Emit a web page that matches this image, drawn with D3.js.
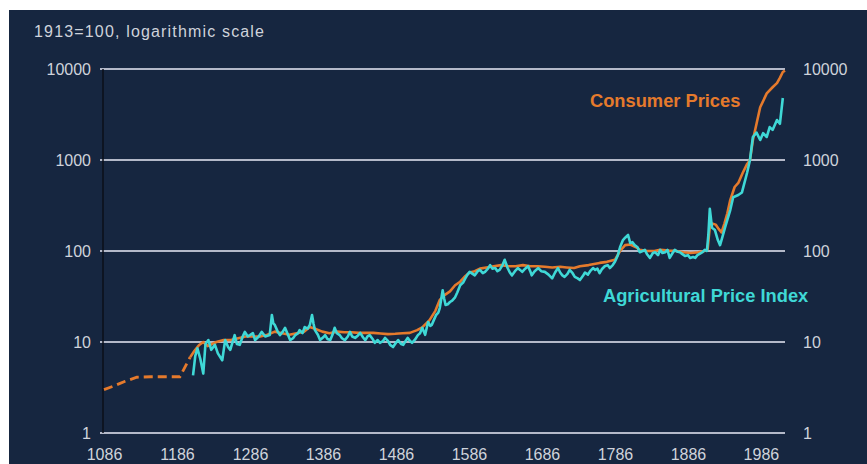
<!DOCTYPE html>
<html><head><meta charset="utf-8">
<script src="https://cdn.jsdelivr.net/npm/d3@7"></script>
<style>
html,body{margin:0;padding:0;background:#ffffff;}
svg{display:block;font-family:"Liberation Sans",Arial,sans-serif;}
</style></head>
<body>
<svg id="chart" width="867" height="464"></svg>
<script>
// ---- data ----
const yTickValues = [1, 10, 100, 1000, 10000];
const xTickYears = [1086, 1186, 1286, 1386, 1486, 1586, 1686, 1786, 1886, 1986];

// Consumer prices, early estimated (dashed) segment
const cpiEarlyYears  = [1086, 1100, 1115, 1131, 1150, 1170, 1190, 1204];
const cpiEarlyValues = [3.0, 3.3, 3.7, 4.1, 4.15, 4.15, 4.15, 6.8];

// Consumer prices (solid)
const cpiYears = [1204,1210,1216,1222,1228,1234,1240,1250,1260,1270,1280,1290,1300,1310,1320,1330,1340,1350,1360,1368,1375,1385,1395,1405,1415,1425,1435,1445,1455,1465,1475,1485,1495,1505,1515,1522,1532,1540,1546,1553,1560,1567,1574,1580,1587,1594,1601,1610,1620,1630,1640,1650,1660,1670,1680,1690,1700,1711,1720,1730,1738,1750,1765,1775,1786,1793,1800,1807,1815,1820,1830,1840,1848,1860,1870,1880,1890,1900,1909,1913,1916,1920,1924,1928,1932,1936,1940,1944,1950,1955,1961,1967,1971,1975,1980,1985,1994,2002,2008,2012,2016,2019];
const cpiValues = [6.8,8.0,9.2,10.0,9.0,9.5,10,10.5,10.5,11,11.5,11.5,11.5,12,13,12.5,12,12.5,13,14.6,14,13,12.5,13,12.8,12.8,12.6,12.6,12.6,12.4,12.2,12.3,12.5,12.6,13.5,14.5,17.4,22,29,33,36,42,46,52,58,60,64,66,68,70,68,68,70,68,68,67,66,67,66,65,68,70,74,76,80,100,116,118,110,103,100,100,103,101,100,97,95,97,100,105,185,200,195,175,160,200,260,363,505,560,720,900,1000,1660,2500,3800,5400,6300,7000,8000,9270,9600];

// Agricultural price index
const agriYears = [1208,1211,1214,1218,1222,1225,1229,1233,1238,1242,1248,1252,1256,1259,1265,1268,1272,1276,1279,1283,1286,1290,1293,1298,1302,1307,1313,1316,1318,1320,1324,1327,1331,1334,1338,1341,1345,1348,1352,1354,1358,1361,1365,1368,1371,1373,1375,1379,1382,1386,1389,1392,1396,1399,1402,1405,1409,1412,1416,1420,1423,1426,1430,1434,1437,1441,1444,1447,1450,1454,1457,1461,1464,1468,1471,1475,1478,1482,1486,1489,1493,1496,1499,1502,1505,1508,1512,1516,1519,1522,1526,1530,1533,1535,1538,1541,1544,1546,1550,1552,1554,1557,1560,1563,1567,1570,1574,1578,1581,1584,1587,1591,1594,1598,1601,1605,1608,1612,1615,1618,1622,1625,1628,1632,1635,1637,1639,1642,1645,1649,1653,1656,1659,1663,1667,1670,1672,1676,1681,1685,1690,1695,1700,1704,1708,1711,1714,1717,1721,1724,1728,1731,1735,1738,1742,1745,1749,1752,1756,1759,1762,1765,1768,1772,1776,1779,1783,1786,1790,1793,1797,1800,1804,1807,1810,1813,1817,1820,1824,1827,1830,1834,1838,1841,1845,1848,1851,1855,1858,1861,1865,1868,1872,1875,1878,1882,1886,1889,1893,1896,1899,1902,1906,1909,1912,1914,1916,1919,1923,1927,1930,1933,1937,1944,1948,1955,1960,1967,1971,1975,1980,1985,1989,1994,1998,2002,2008,2012,2016];
const agriValues = [4.3,7.0,8.5,6.5,4.5,9.5,10.5,8.2,9.3,7.5,6.3,10.5,8.8,8.2,11.9,9.5,9.3,11.5,12.9,11.5,11.9,12.5,10.5,11.5,12.9,11.5,11.9,19.8,16,15.4,13,11.9,13,14.3,12,10.5,11,11.9,12.5,13.5,12.5,14.6,14,15.4,19.8,16,13.5,12,10.5,11.2,11.9,10.8,10.5,12,14.3,12.5,11.9,11,10.5,11.5,12.9,11.5,11.1,11.8,12.6,11.2,10.5,11.5,11.9,10.8,9.8,10.5,9.8,10.2,11.1,10.3,9.3,8.8,9.8,10.5,9.5,9.3,10.2,11.1,10.3,9.8,10.6,11.9,12.5,14.3,12,16.6,15,15.4,17.5,19.8,21,23.6,37,30,25.5,26,27.5,28.5,31,35,42,45,50,55,59,56,54,60,62,57,59,64,70,64,65,60,62,70,80,72,65,58,54,60,65,62,59,64,68,60,54,60,65,60,59,55,50,58,65,58,54,52,56,62,57,52,50,48,53,58,55,60,65,62,64,57,63,68,70,65,70,76,90,110,132,140,150,122,125,116,110,97,100,103,92,84,95,97,90,103,95,97,103,84,95,103,98,97,93,88,90,84,86,84,90,93,97,103,100,150,290,180,170,132,116,140,183,282,390,412,440,720,1000,1790,2000,1660,1970,1790,2300,2140,2750,2500,4800];

// ---- layout ----
const W = 867, H = 464;
const svg = d3.select("#chart");
const bg = "#162640";
const gridColor = "#b4b9c9";
const textColor = "#cfd3db";
const orange = "#e57a2c";
const teal = "#3fd8d6";
const fontFam = "Liberation Sans, Arial, sans-serif";

svg.append("rect").attr("x", 9).attr("y", 10).attr("width", W - 9).attr("height", H - 10).attr("fill", bg);

const x = d3.scaleLinear().domain([1086, 2019]).range([104, 785]);
const y = d3.scaleLog().domain([1, 10000]).range([433, 69]);

// gridlines
svg.append("g").selectAll("line").data(yTickValues).join("line")
  .attr("x1", 100).attr("x2", 785)
  .attr("y1", d => y(d)).attr("y2", d => y(d))
  .attr("stroke", gridColor).attr("stroke-width", 2);

// left axis line
svg.append("line").attr("x1", 103).attr("x2", 103).attr("y1", 69).attr("y2", 433)
  .attr("stroke", "#0b0f18").attr("stroke-width", 1.5);

const fmt = d => String(d);
// left labels
const gl = svg.append("g").attr("transform", "translate(103,0)")
  .call(d3.axisLeft(y).tickValues(yTickValues).tickFormat(fmt).tickSize(0).tickPadding(12));
gl.select(".domain").remove();
gl.selectAll("text").attr("fill", textColor).attr("font-size", 16).attr("font-family", fontFam);

// right labels
const gr = svg.append("g").attr("transform", "translate(785,0)")
  .call(d3.axisRight(y).tickValues(yTickValues).tickFormat(fmt).tickSize(0).tickPadding(18));
gr.select(".domain").remove();
gr.selectAll("text").attr("fill", textColor).attr("font-size", 16).attr("font-family", fontFam);

// bottom labels
const gb = svg.append("g").attr("transform", "translate(0,433)")
  .call(d3.axisBottom(x).tickValues(xTickYears).tickFormat(fmt).tickSize(0).tickPadding(16));
gb.select(".domain").remove();
gb.selectAll("text").attr("fill", textColor).attr("font-size", 16).attr("font-family", fontFam);

// subtitle
svg.append("text").attr("x", 34).attr("y", 37).attr("fill", textColor)
  .attr("font-size", 16).attr("textLength", 230).attr("lengthAdjust", "spacing")
  .text("1913=100, logarithmic scale");

// lines
const line = d3.line().x(d => x(d[0])).y(d => y(d[1]));
const cpiEarly = cpiEarlyYears.map((yr, i) => [yr, cpiEarlyValues[i]]);
const cpi = cpiYears.map((yr, i) => [yr, cpiValues[i]]);
const agri = agriYears.map((yr, i) => [yr, agriValues[i]]);

svg.append("path").datum(cpiEarly).attr("d", line).attr("fill", "none")
  .attr("stroke", orange).attr("stroke-width", 2.8).attr("stroke-dasharray", "9,5");
svg.append("path").datum(cpi).attr("d", line).attr("fill", "none")
  .attr("stroke", orange).attr("stroke-width", 2.6).attr("stroke-linejoin", "round");
svg.append("path").datum(agri).attr("d", line).attr("fill", "none")
  .attr("stroke", teal).attr("stroke-width", 2.6).attr("stroke-linejoin", "round");

// series labels
svg.append("text").attr("x", 590).attr("y", 107).attr("fill", orange)
  .attr("font-size", 18.3).attr("font-weight", "bold").text("Consumer Prices");
svg.append("text").attr("x", 603).attr("y", 302).attr("fill", teal)
  .attr("font-size", 18.3).attr("font-weight", "bold").text("Agricultural Price Index");
</script>
</body></html>
